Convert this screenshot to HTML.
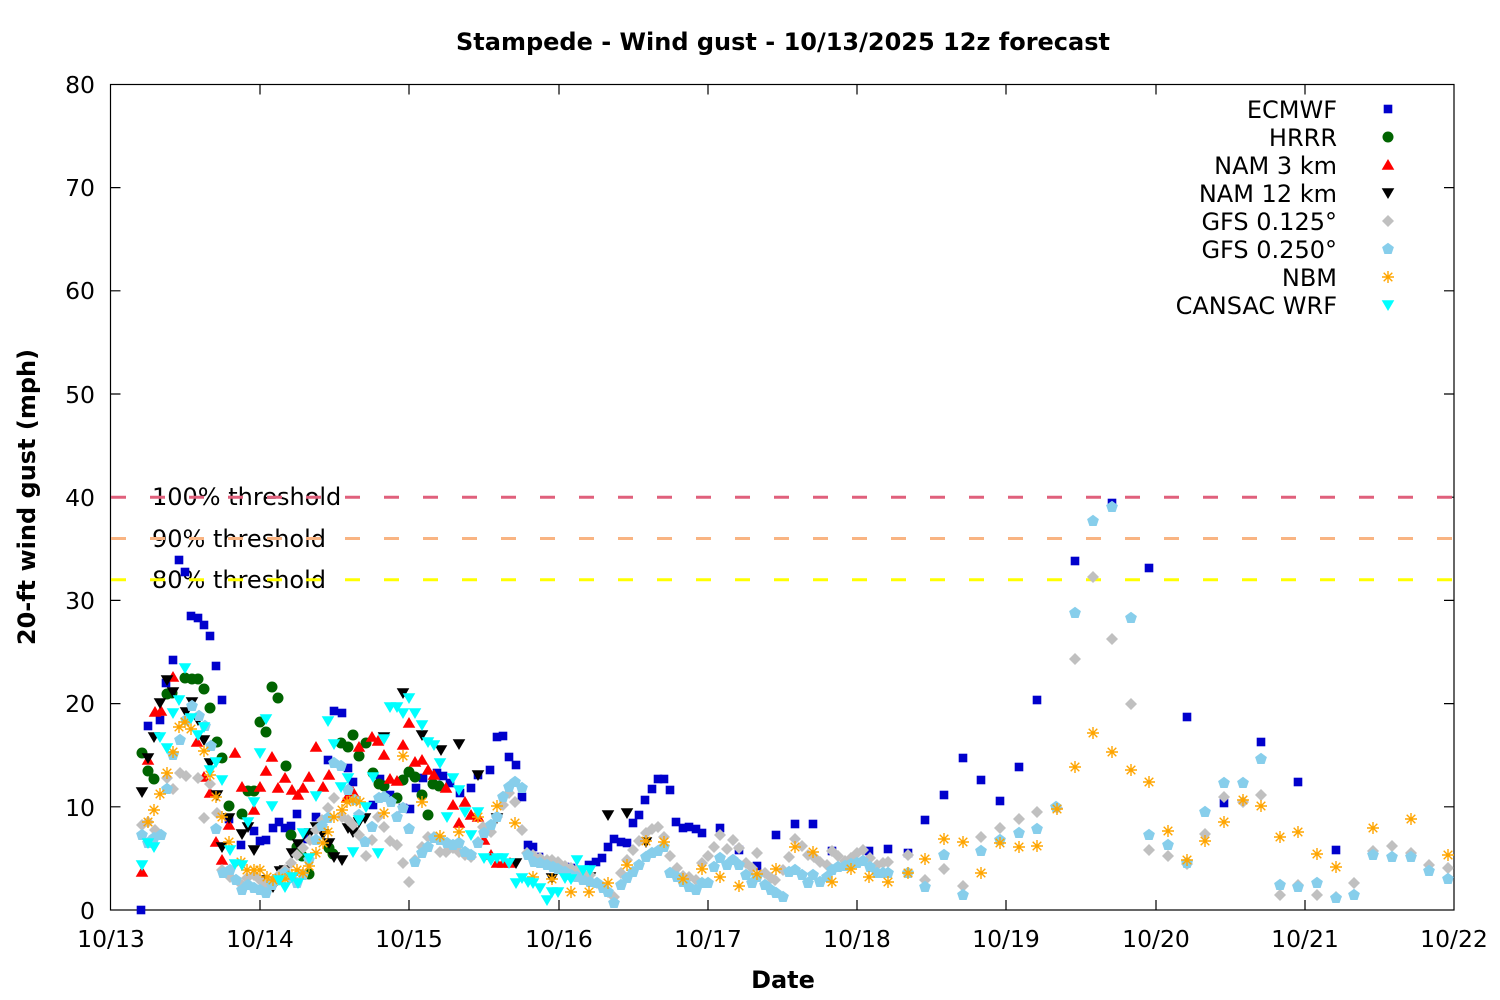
<!DOCTYPE html>
<html><head><meta charset="utf-8"><style>
html,body{margin:0;padding:0;background:#fff;}
svg{display:block;}
text{font-family:"DejaVu Sans","Liberation Sans",sans-serif;fill:#000;}
</style></head><body>
<svg width="1500" height="1000" viewBox="0 0 1500 1000" xmlns="http://www.w3.org/2000/svg">
<defs>
<rect id="sq" x="-4.3" y="-4.3" width="8.6" height="8.6" fill="#0000cc"/>
<circle id="ci" r="5.5" fill="#006400"/>
<polygon id="tu" points="0,-6 6.3,4.8 -6.3,4.8" fill="#ff0000"/>
<polygon id="td" points="-6.3,-4.8 6.3,-4.8 0,6" fill="#000000"/>
<polygon id="tc" points="-6.3,-4.8 6.3,-4.8 0,6" fill="#00ffff"/>
<polygon id="di" points="0,-6 6,0 0,6 -6,0" fill="#c0c0c0"/>
<polygon id="pe" points="0,-6.2 5.9,-1.9 3.6,5 -3.6,5 -5.9,-1.9" fill="#87ceeb"/>
<g id="as" stroke="#ffa500" stroke-width="1.4" fill="none"><path d="M-6,0H6M0,-6V6M-4.3,-4.3L4.3,4.3M-4.3,4.3L4.3,-4.3"/></g>
</defs>
<rect width="1500" height="1000" fill="#fff"/>
<text x="783" y="50" font-size="24" font-weight="bold" text-anchor="middle">Stampede - Wind gust - 10/13/2025 12z forecast</text>
<g font-size="23.5" text-anchor="end">
<text x="95" y="919">0</text><text x="95" y="816">10</text><text x="95" y="712">20</text><text x="95" y="609">30</text><text x="95" y="506">40</text><text x="95" y="403">50</text><text x="95" y="299">60</text><text x="95" y="196">70</text><text x="95" y="93">80</text>
</g>
<g font-size="23.5" text-anchor="middle">
<text x="111" y="947">10/13</text><text x="260" y="947">10/14</text><text x="409" y="947">10/15</text><text x="559" y="947">10/16</text><text x="708" y="947">10/17</text><text x="857" y="947">10/18</text><text x="1006" y="947">10/19</text><text x="1156" y="947">10/20</text><text x="1305" y="947">10/21</text><text x="1454" y="947">10/22</text>
</g>
<text x="783" y="988" font-size="24" font-weight="bold" text-anchor="middle">Date</text>
<text transform="translate(35,497) rotate(-90)" font-size="24" font-weight="bold" text-anchor="middle">20-ft wind gust (mph)</text>
<g stroke="#000" stroke-width="1.2" fill="none">
<rect x="110.5" y="84.5" width="1343.5" height="825.5"/>
<path d="M110.5,806.8h10M110.5,703.6h10M110.5,600.4h10M110.5,497.2h10M110.5,394h10M110.5,290.8h10M110.5,187.6h10M1454,806.8h-10M1454,703.6h-10M1454,600.4h-10M1454,497.2h-10M1454,394h-10M1454,290.8h-10M1454,187.6h-10"/>
<path d="M260,910v-10M409,910v-10M559,910v-10M708,910v-10M857,910v-10M1006,910v-10M1156,910v-10M1305,910v-10M260,84.5v10M409,84.5v10M559,84.5v10M708,84.5v10M857,84.5v10M1006,84.5v10M1156,84.5v10M1305,84.5v10"/>
</g>
<g font-size="24">
<text x="152" y="505">100% threshold</text>
<text x="152" y="547">90% threshold</text>
<text x="152" y="588">80% threshold</text>
</g>
<g stroke-width="3" stroke-dasharray="15 24" fill="none">
<path d="M111,497.2H1454" stroke="#e0607c"/>
<path d="M111,538.5H1454" stroke="#f9b482"/>
<path d="M111,579.8H1454" stroke="#ffff00"/>
</g>
<g font-size="24" text-anchor="end">
<text x="1337" y="118">ECMWF</text><text x="1337" y="146">HRRR</text><text x="1337" y="174">NAM 3 km</text><text x="1337" y="202">NAM 12 km</text><text x="1337" y="230">GFS 0.125°</text><text x="1337" y="258">GFS 0.250°</text><text x="1337" y="286">NBM</text><text x="1337" y="314">CANSAC WRF</text>
</g>
<use href="#sq" x="1388" y="109"/><use href="#ci" x="1388" y="137"/><use href="#tu" x="1388" y="165"/><use href="#td" x="1388" y="193"/><use href="#di" x="1388" y="221"/><use href="#pe" x="1388" y="249"/><use href="#as" x="1388" y="277"/><use href="#tc" x="1388" y="305"/>

<!-- ECMWF -->
<g>
<use href="#sq" x="141" y="910"/><use href="#sq" x="148" y="726"/><use href="#sq" x="160" y="720"/><use href="#sq" x="166" y="683"/><use href="#sq" x="173" y="660"/><use href="#sq" x="179" y="560"/><use href="#sq" x="185" y="572"/><use href="#sq" x="191" y="616"/><use href="#sq" x="198" y="618"/><use href="#sq" x="204" y="625"/><use href="#sq" x="210" y="636"/><use href="#sq" x="216" y="666"/><use href="#sq" x="222" y="700"/><use href="#sq" x="229" y="819"/><use href="#sq" x="241" y="845"/><use href="#sq" x="254" y="831"/><use href="#sq" x="260" y="841"/><use href="#sq" x="266" y="840"/><use href="#sq" x="273" y="828"/><use href="#sq" x="279" y="822"/><use href="#sq" x="285" y="828"/><use href="#sq" x="291" y="826"/><use href="#sq" x="297" y="814"/><use href="#sq" x="307" y="839"/><use href="#sq" x="316" y="817"/><use href="#sq" x="328" y="760"/><use href="#sq" x="334" y="711"/><use href="#sq" x="342" y="713"/><use href="#sq" x="348" y="768"/><use href="#sq" x="353" y="782"/><use href="#sq" x="373" y="805"/><use href="#sq" x="380" y="779"/><use href="#sq" x="390" y="795"/><use href="#sq" x="403" y="808"/><use href="#sq" x="410" y="809"/><use href="#sq" x="416" y="788"/><use href="#sq" x="423" y="778"/><use href="#sq" x="437" y="773"/><use href="#sq" x="443" y="776"/><use href="#sq" x="450" y="783"/><use href="#sq" x="460" y="793"/><use href="#sq" x="471" y="788"/><use href="#sq" x="478" y="775"/><use href="#sq" x="490" y="770"/><use href="#sq" x="497" y="737"/><use href="#sq" x="503" y="736"/><use href="#sq" x="509" y="757"/><use href="#sq" x="516" y="765"/><use href="#sq" x="522" y="797"/><use href="#sq" x="528" y="845"/><use href="#sq" x="533" y="847"/><use href="#sq" x="539" y="857"/><use href="#sq" x="552" y="865"/><use href="#sq" x="558" y="866"/><use href="#sq" x="565" y="867"/><use href="#sq" x="571" y="868"/><use href="#sq" x="576" y="870"/><use href="#sq" x="589" y="865"/><use href="#sq" x="596" y="862"/><use href="#sq" x="602" y="858"/><use href="#sq" x="608" y="847"/><use href="#sq" x="614" y="839"/><use href="#sq" x="621" y="842"/><use href="#sq" x="627" y="843"/><use href="#sq" x="633" y="823"/><use href="#sq" x="639" y="815"/><use href="#sq" x="645" y="800"/><use href="#sq" x="652" y="789"/><use href="#sq" x="658" y="779"/><use href="#sq" x="664" y="779"/><use href="#sq" x="670" y="790"/><use href="#sq" x="676" y="822"/><use href="#sq" x="683" y="828"/><use href="#sq" x="689" y="827"/><use href="#sq" x="696" y="829"/><use href="#sq" x="702" y="833"/><use href="#sq" x="720" y="828"/><use href="#sq" x="739" y="850"/><use href="#sq" x="757" y="866"/><use href="#sq" x="776" y="835"/><use href="#sq" x="795" y="824"/><use href="#sq" x="813" y="824"/><use href="#sq" x="832" y="851"/><use href="#sq" x="869" y="851"/><use href="#sq" x="888" y="849"/><use href="#sq" x="908" y="853"/><use href="#sq" x="925" y="820"/><use href="#sq" x="944" y="795"/><use href="#sq" x="963" y="758"/><use href="#sq" x="981" y="780"/><use href="#sq" x="1000" y="801"/><use href="#sq" x="1019" y="767"/><use href="#sq" x="1037" y="700"/><use href="#sq" x="1075" y="561"/><use href="#sq" x="1112" y="503"/><use href="#sq" x="1149" y="568"/><use href="#sq" x="1187" y="717"/><use href="#sq" x="1224" y="803"/><use href="#sq" x="1261" y="742"/><use href="#sq" x="1298" y="782"/><use href="#sq" x="1336" y="850"/>
</g>
<!-- HRRR -->
<g>
<use href="#ci" x="142" y="753"/><use href="#ci" x="148" y="771"/><use href="#ci" x="154" y="779"/><use href="#ci" x="167" y="694"/><use href="#ci" x="172" y="693"/><use href="#ci" x="185" y="678"/><use href="#ci" x="192" y="679"/><use href="#ci" x="198" y="679"/><use href="#ci" x="204" y="689"/><use href="#ci" x="210" y="708"/><use href="#ci" x="217" y="742"/><use href="#ci" x="222" y="758"/><use href="#ci" x="229" y="806"/><use href="#ci" x="242" y="814"/><use href="#ci" x="248" y="791"/><use href="#ci" x="254" y="791"/><use href="#ci" x="260" y="722"/><use href="#ci" x="266" y="732"/><use href="#ci" x="272" y="687"/><use href="#ci" x="278" y="698"/><use href="#ci" x="286" y="766"/><use href="#ci" x="291" y="835"/><use href="#ci" x="297" y="847"/><use href="#ci" x="302" y="856"/><use href="#ci" x="309" y="874"/><use href="#ci" x="329" y="848"/><use href="#ci" x="333" y="854"/><use href="#ci" x="341" y="743"/><use href="#ci" x="348" y="747"/><use href="#ci" x="353" y="735"/><use href="#ci" x="359" y="756"/><use href="#ci" x="366" y="743"/><use href="#ci" x="373" y="773"/><use href="#ci" x="379" y="784"/><use href="#ci" x="384" y="786"/><use href="#ci" x="397" y="798"/><use href="#ci" x="403" y="780"/><use href="#ci" x="409" y="772"/><use href="#ci" x="415" y="777"/><use href="#ci" x="422" y="795"/><use href="#ci" x="428" y="815"/><use href="#ci" x="433" y="784"/><use href="#ci" x="439" y="786"/>
</g>
<!-- NAM 3 km -->
<g>
<use href="#tu" x="142" y="872"/><use href="#tu" x="148" y="760"/><use href="#tu" x="155" y="712"/><use href="#tu" x="161" y="711"/><use href="#tu" x="173" y="677"/><use href="#tu" x="197" y="742"/><use href="#tu" x="204" y="777"/><use href="#tu" x="210" y="793"/><use href="#tu" x="216" y="842"/><use href="#tu" x="222" y="860"/><use href="#tu" x="229" y="825"/><use href="#tu" x="235" y="753"/><use href="#tu" x="242" y="787"/><use href="#tu" x="254" y="810"/><use href="#tu" x="260" y="787"/><use href="#tu" x="266" y="771"/><use href="#tu" x="272" y="757"/><use href="#tu" x="278" y="788"/><use href="#tu" x="285" y="778"/><use href="#tu" x="292" y="790"/><use href="#tu" x="298" y="795"/><use href="#tu" x="303" y="788"/><use href="#tu" x="309" y="777"/><use href="#tu" x="316" y="747"/><use href="#tu" x="323" y="787"/><use href="#tu" x="329" y="775"/><use href="#tu" x="347" y="798"/><use href="#tu" x="353" y="792"/><use href="#tu" x="359" y="747"/><use href="#tu" x="372" y="737"/><use href="#tu" x="378" y="741"/><use href="#tu" x="384" y="755"/><use href="#tu" x="390" y="779"/><use href="#tu" x="397" y="781"/><use href="#tu" x="403" y="745"/><use href="#tu" x="409" y="723"/><use href="#tu" x="415" y="762"/><use href="#tu" x="422" y="760"/><use href="#tu" x="428" y="770"/><use href="#tu" x="434" y="775"/><use href="#tu" x="446" y="788"/><use href="#tu" x="453" y="805"/><use href="#tu" x="459" y="823"/><use href="#tu" x="465" y="802"/><use href="#tu" x="471" y="815"/><use href="#tu" x="478" y="817"/><use href="#tu" x="484" y="840"/><use href="#tu" x="491" y="855"/><use href="#tu" x="497" y="863"/><use href="#tu" x="503" y="863"/><use href="#tu" x="510" y="863"/>
</g>
<!-- NAM 12 km -->
<g>
<use href="#td" x="142" y="792"/><use href="#td" x="148" y="758"/><use href="#td" x="154" y="737"/><use href="#td" x="160" y="703"/><use href="#td" x="167" y="680"/><use href="#td" x="173" y="692"/><use href="#td" x="186" y="712"/><use href="#td" x="192" y="702"/><use href="#td" x="198" y="720"/><use href="#td" x="204" y="740"/><use href="#td" x="210" y="763"/><use href="#td" x="217" y="795"/><use href="#td" x="222" y="847"/><use href="#td" x="229" y="818"/><use href="#td" x="242" y="834"/><use href="#td" x="248" y="827"/><use href="#td" x="254" y="850"/><use href="#td" x="261" y="880"/><use href="#td" x="267" y="885"/><use href="#td" x="273" y="887"/><use href="#td" x="280" y="871"/><use href="#td" x="285" y="870"/><use href="#td" x="292" y="853"/><use href="#td" x="298" y="844"/><use href="#td" x="304" y="834"/><use href="#td" x="310" y="833"/><use href="#td" x="316" y="827"/><use href="#td" x="323" y="834"/><use href="#td" x="329" y="843"/><use href="#td" x="334" y="857"/><use href="#td" x="342" y="860"/><use href="#td" x="348" y="828"/><use href="#td" x="353" y="832"/><use href="#td" x="359" y="822"/><use href="#td" x="365" y="818"/><use href="#td" x="384" y="737"/><use href="#td" x="403" y="693"/><use href="#td" x="422" y="735"/><use href="#td" x="441" y="750"/><use href="#td" x="459" y="744"/><use href="#td" x="478" y="775"/><use href="#td" x="497" y="818"/><use href="#td" x="516" y="863"/><use href="#td" x="552" y="878"/><use href="#td" x="590" y="877"/><use href="#td" x="608" y="815"/><use href="#td" x="627" y="813"/><use href="#td" x="646" y="842"/>
</g>
<!-- GFS 0.125 -->
<g>
<use href="#di" x="142" y="825"/><use href="#di" x="148" y="822"/><use href="#di" x="155" y="830"/><use href="#di" x="167" y="778"/><use href="#di" x="173" y="789"/><use href="#di" x="180" y="773"/><use href="#di" x="186" y="776"/><use href="#di" x="198" y="778"/><use href="#di" x="204" y="818"/><use href="#di" x="210" y="784"/><use href="#di" x="217" y="813"/><use href="#di" x="222" y="870"/><use href="#di" x="230" y="877"/><use href="#di" x="242" y="885"/><use href="#di" x="247" y="878"/><use href="#di" x="254" y="875"/><use href="#di" x="260" y="880"/><use href="#di" x="266" y="885"/><use href="#di" x="273" y="880"/><use href="#di" x="279" y="875"/><use href="#di" x="285" y="870"/><use href="#di" x="291" y="863"/><use href="#di" x="297" y="855"/><use href="#di" x="303" y="848"/><use href="#di" x="310" y="840"/><use href="#di" x="316" y="830"/><use href="#di" x="322" y="820"/><use href="#di" x="328" y="808"/><use href="#di" x="334" y="798"/><use href="#di" x="342" y="817"/><use href="#di" x="348" y="820"/><use href="#di" x="353" y="825"/><use href="#di" x="359" y="835"/><use href="#di" x="366" y="856"/><use href="#di" x="372" y="840"/><use href="#di" x="378" y="817"/><use href="#di" x="384" y="827"/><use href="#di" x="390" y="841"/><use href="#di" x="397" y="845"/><use href="#di" x="403" y="863"/><use href="#di" x="409" y="882"/><use href="#di" x="415" y="860"/><use href="#di" x="422" y="847"/><use href="#di" x="428" y="837"/><use href="#di" x="434" y="837"/><use href="#di" x="440" y="852"/><use href="#di" x="446" y="852"/><use href="#di" x="453" y="848"/><use href="#di" x="459" y="852"/><use href="#di" x="465" y="855"/><use href="#di" x="471" y="857"/><use href="#di" x="478" y="842"/><use href="#di" x="483" y="827"/><use href="#di" x="491" y="832"/><use href="#di" x="497" y="817"/><use href="#di" x="503" y="805"/><use href="#di" x="509" y="793"/><use href="#di" x="515" y="802"/><use href="#di" x="522" y="830"/><use href="#di" x="527" y="853"/><use href="#di" x="533" y="855"/><use href="#di" x="540" y="858"/><use href="#di" x="547" y="860"/><use href="#di" x="552" y="860"/><use href="#di" x="558" y="862"/><use href="#di" x="565" y="866"/><use href="#di" x="571" y="868"/><use href="#di" x="577" y="870"/><use href="#di" x="583" y="873"/><use href="#di" x="590" y="875"/><use href="#di" x="597" y="883"/><use href="#di" x="603" y="887"/><use href="#di" x="608" y="892"/><use href="#di" x="614" y="897"/><use href="#di" x="621" y="873"/><use href="#di" x="627" y="860"/><use href="#di" x="633" y="850"/><use href="#di" x="639" y="841"/><use href="#di" x="646" y="833"/><use href="#di" x="652" y="829"/><use href="#di" x="658" y="827"/><use href="#di" x="664" y="837"/><use href="#di" x="670" y="856"/><use href="#di" x="677" y="868"/><use href="#di" x="683" y="876"/><use href="#di" x="689" y="877"/><use href="#di" x="696" y="880"/><use href="#di" x="702" y="863"/><use href="#di" x="708" y="856"/><use href="#di" x="714" y="847"/><use href="#di" x="720" y="835"/><use href="#di" x="727" y="849"/><use href="#di" x="733" y="840"/><use href="#di" x="739" y="848"/><use href="#di" x="746" y="863"/><use href="#di" x="752" y="868"/><use href="#di" x="757" y="853"/><use href="#di" x="765" y="873"/><use href="#di" x="771" y="878"/><use href="#di" x="775" y="880"/><use href="#di" x="783" y="870"/><use href="#di" x="789" y="857"/><use href="#di" x="795" y="839"/><use href="#di" x="802" y="846"/><use href="#di" x="808" y="855"/><use href="#di" x="814" y="857"/><use href="#di" x="820" y="862"/><use href="#di" x="827" y="865"/><use href="#di" x="832" y="851"/><use href="#di" x="838" y="856"/><use href="#di" x="845" y="861"/><use href="#di" x="851" y="858"/><use href="#di" x="857" y="853"/><use href="#di" x="863" y="850"/><use href="#di" x="870" y="858"/><use href="#di" x="877" y="865"/><use href="#di" x="883" y="863"/><use href="#di" x="888" y="862"/><use href="#di" x="908" y="855"/><use href="#di" x="925" y="880"/><use href="#di" x="944" y="869"/><use href="#di" x="963" y="886"/><use href="#di" x="981" y="837"/><use href="#di" x="1000" y="828"/><use href="#di" x="1019" y="819"/><use href="#di" x="1037" y="812"/><use href="#di" x="1057" y="808"/><use href="#di" x="1075" y="659"/><use href="#di" x="1093" y="577"/><use href="#di" x="1112" y="639"/><use href="#di" x="1131" y="704"/><use href="#di" x="1149" y="850"/><use href="#di" x="1168" y="856"/><use href="#di" x="1187" y="864"/><use href="#di" x="1205" y="834"/><use href="#di" x="1224" y="797"/><use href="#di" x="1243" y="802"/><use href="#di" x="1261" y="795"/><use href="#di" x="1280" y="895"/><use href="#di" x="1298" y="885"/><use href="#di" x="1317" y="895"/><use href="#di" x="1336" y="897"/><use href="#di" x="1354" y="883"/><use href="#di" x="1373" y="851"/><use href="#di" x="1392" y="846"/><use href="#di" x="1411" y="853"/><use href="#di" x="1429" y="865"/><use href="#di" x="1448" y="868"/>
</g>
<!-- GFS 0.250 -->
<g>
<use href="#pe" x="142" y="835"/><use href="#pe" x="148" y="843"/><use href="#pe" x="154" y="838"/><use href="#pe" x="161" y="835"/><use href="#pe" x="167" y="789"/><use href="#pe" x="173" y="755"/><use href="#pe" x="180" y="740"/><use href="#pe" x="186" y="720"/><use href="#pe" x="192" y="706"/><use href="#pe" x="199" y="716"/><use href="#pe" x="205" y="726"/><use href="#pe" x="211" y="746"/><use href="#pe" x="216" y="829"/><use href="#pe" x="223" y="873"/><use href="#pe" x="230" y="870"/><use href="#pe" x="236" y="880"/><use href="#pe" x="242" y="890"/><use href="#pe" x="248" y="885"/><use href="#pe" x="254" y="888"/><use href="#pe" x="260" y="890"/><use href="#pe" x="266" y="893"/><use href="#pe" x="272" y="885"/><use href="#pe" x="279" y="880"/><use href="#pe" x="285" y="873"/><use href="#pe" x="291" y="878"/><use href="#pe" x="297" y="883"/><use href="#pe" x="303" y="875"/><use href="#pe" x="309" y="860"/><use href="#pe" x="316" y="840"/><use href="#pe" x="322" y="826"/><use href="#pe" x="328" y="818"/><use href="#pe" x="334" y="763"/><use href="#pe" x="341" y="766"/><use href="#pe" x="348" y="790"/><use href="#pe" x="355" y="800"/><use href="#pe" x="359" y="815"/><use href="#pe" x="365" y="842"/><use href="#pe" x="372" y="827"/><use href="#pe" x="379" y="798"/><use href="#pe" x="384" y="797"/><use href="#pe" x="391" y="802"/><use href="#pe" x="397" y="817"/><use href="#pe" x="403" y="808"/><use href="#pe" x="409" y="829"/><use href="#pe" x="415" y="862"/><use href="#pe" x="422" y="853"/><use href="#pe" x="428" y="847"/><use href="#pe" x="434" y="838"/><use href="#pe" x="440" y="840"/><use href="#pe" x="447" y="843"/><use href="#pe" x="453" y="845"/><use href="#pe" x="459" y="843"/><use href="#pe" x="465" y="852"/><use href="#pe" x="471" y="855"/><use href="#pe" x="478" y="843"/><use href="#pe" x="484" y="833"/><use href="#pe" x="491" y="825"/><use href="#pe" x="497" y="817"/><use href="#pe" x="503" y="797"/><use href="#pe" x="509" y="787"/><use href="#pe" x="515" y="782"/><use href="#pe" x="522" y="788"/><use href="#pe" x="528" y="855"/><use href="#pe" x="534" y="862"/><use href="#pe" x="540" y="863"/><use href="#pe" x="547" y="865"/><use href="#pe" x="553" y="867"/><use href="#pe" x="558" y="869"/><use href="#pe" x="565" y="872"/><use href="#pe" x="571" y="875"/><use href="#pe" x="577" y="877"/><use href="#pe" x="583" y="880"/><use href="#pe" x="590" y="882"/><use href="#pe" x="597" y="883"/><use href="#pe" x="603" y="888"/><use href="#pe" x="608" y="892"/><use href="#pe" x="614" y="903"/><use href="#pe" x="621" y="885"/><use href="#pe" x="627" y="878"/><use href="#pe" x="633" y="872"/><use href="#pe" x="639" y="865"/><use href="#pe" x="646" y="857"/><use href="#pe" x="652" y="853"/><use href="#pe" x="658" y="851"/><use href="#pe" x="664" y="847"/><use href="#pe" x="670" y="873"/><use href="#pe" x="677" y="877"/><use href="#pe" x="683" y="882"/><use href="#pe" x="689" y="887"/><use href="#pe" x="696" y="890"/><use href="#pe" x="702" y="883"/><use href="#pe" x="708" y="883"/><use href="#pe" x="714" y="867"/><use href="#pe" x="720" y="858"/><use href="#pe" x="727" y="865"/><use href="#pe" x="733" y="860"/><use href="#pe" x="739" y="865"/><use href="#pe" x="746" y="875"/><use href="#pe" x="752" y="883"/><use href="#pe" x="757" y="877"/><use href="#pe" x="765" y="885"/><use href="#pe" x="771" y="890"/><use href="#pe" x="776" y="893"/><use href="#pe" x="783" y="897"/><use href="#pe" x="789" y="872"/><use href="#pe" x="795" y="870"/><use href="#pe" x="802" y="875"/><use href="#pe" x="808" y="883"/><use href="#pe" x="813" y="875"/><use href="#pe" x="820" y="882"/><use href="#pe" x="827" y="877"/><use href="#pe" x="832" y="870"/><use href="#pe" x="838" y="867"/><use href="#pe" x="845" y="866"/><use href="#pe" x="851" y="864"/><use href="#pe" x="857" y="863"/><use href="#pe" x="863" y="861"/><use href="#pe" x="870" y="867"/><use href="#pe" x="877" y="873"/><use href="#pe" x="883" y="873"/><use href="#pe" x="888" y="873"/><use href="#pe" x="908" y="873"/><use href="#pe" x="925" y="887"/><use href="#pe" x="944" y="855"/><use href="#pe" x="963" y="895"/><use href="#pe" x="981" y="851"/><use href="#pe" x="1000" y="840"/><use href="#pe" x="1019" y="833"/><use href="#pe" x="1037" y="829"/><use href="#pe" x="1056" y="807"/><use href="#pe" x="1075" y="613"/><use href="#pe" x="1093" y="521"/><use href="#pe" x="1112" y="507"/><use href="#pe" x="1131" y="618"/><use href="#pe" x="1149" y="835"/><use href="#pe" x="1168" y="845"/><use href="#pe" x="1187" y="863"/><use href="#pe" x="1205" y="812"/><use href="#pe" x="1224" y="783"/><use href="#pe" x="1243" y="783"/><use href="#pe" x="1261" y="759"/><use href="#pe" x="1280" y="885"/><use href="#pe" x="1298" y="887"/><use href="#pe" x="1317" y="883"/><use href="#pe" x="1336" y="898"/><use href="#pe" x="1354" y="895"/><use href="#pe" x="1373" y="855"/><use href="#pe" x="1392" y="857"/><use href="#pe" x="1411" y="857"/><use href="#pe" x="1429" y="871"/><use href="#pe" x="1448" y="879"/>
</g>
<!-- NBM -->
<g>
<use href="#as" x="148" y="822"/><use href="#as" x="154" y="810"/><use href="#as" x="160" y="794"/><use href="#as" x="167" y="773"/><use href="#as" x="173" y="752"/><use href="#as" x="179" y="727"/><use href="#as" x="185" y="722"/><use href="#as" x="191" y="729"/><use href="#as" x="204" y="751"/><use href="#as" x="210" y="775"/><use href="#as" x="216" y="797"/><use href="#as" x="222" y="817"/><use href="#as" x="229" y="842"/><use href="#as" x="241" y="862"/><use href="#as" x="247" y="870"/><use href="#as" x="254" y="870"/><use href="#as" x="260" y="870"/><use href="#as" x="267" y="877"/><use href="#as" x="273" y="880"/><use href="#as" x="279" y="878"/><use href="#as" x="285" y="879"/><use href="#as" x="292" y="875"/><use href="#as" x="297" y="870"/><use href="#as" x="303" y="873"/><use href="#as" x="309" y="866"/><use href="#as" x="316" y="853"/><use href="#as" x="323" y="843"/><use href="#as" x="328" y="832"/><use href="#as" x="334" y="817"/><use href="#as" x="342" y="810"/><use href="#as" x="347" y="802"/><use href="#as" x="353" y="800"/><use href="#as" x="360" y="802"/><use href="#as" x="384" y="813"/><use href="#as" x="403" y="756"/><use href="#as" x="422" y="802"/><use href="#as" x="440" y="836"/><use href="#as" x="459" y="832"/><use href="#as" x="478" y="817"/><use href="#as" x="497" y="806"/><use href="#as" x="515" y="823"/><use href="#as" x="533" y="877"/><use href="#as" x="552" y="879"/><use href="#as" x="571" y="892"/><use href="#as" x="589" y="892"/><use href="#as" x="608" y="883"/><use href="#as" x="627" y="865"/><use href="#as" x="646" y="841"/><use href="#as" x="664" y="842"/><use href="#as" x="683" y="879"/><use href="#as" x="702" y="869"/><use href="#as" x="720" y="877"/><use href="#as" x="739" y="886"/><use href="#as" x="757" y="874"/><use href="#as" x="776" y="869"/><use href="#as" x="795" y="847"/><use href="#as" x="813" y="852"/><use href="#as" x="832" y="882"/><use href="#as" x="851" y="869"/><use href="#as" x="869" y="877"/><use href="#as" x="888" y="882"/><use href="#as" x="908" y="873"/><use href="#as" x="925" y="859"/><use href="#as" x="944" y="839"/><use href="#as" x="963" y="842"/><use href="#as" x="981" y="873"/><use href="#as" x="1000" y="843"/><use href="#as" x="1019" y="847"/><use href="#as" x="1037" y="846"/><use href="#as" x="1057" y="809"/><use href="#as" x="1075" y="767"/><use href="#as" x="1093" y="733"/><use href="#as" x="1112" y="752"/><use href="#as" x="1131" y="770"/><use href="#as" x="1149" y="782"/><use href="#as" x="1168" y="831"/><use href="#as" x="1187" y="860"/><use href="#as" x="1205" y="841"/><use href="#as" x="1224" y="822"/><use href="#as" x="1243" y="800"/><use href="#as" x="1261" y="806"/><use href="#as" x="1280" y="837"/><use href="#as" x="1298" y="832"/><use href="#as" x="1317" y="854"/><use href="#as" x="1336" y="867"/><use href="#as" x="1373" y="828"/><use href="#as" x="1411" y="819"/><use href="#as" x="1448" y="855"/>
</g>
<!-- CANSAC WRF -->
<g>
<use href="#tc" x="142" y="865"/><use href="#tc" x="148" y="843"/><use href="#tc" x="154" y="847"/><use href="#tc" x="160" y="737"/><use href="#tc" x="167" y="748"/><use href="#tc" x="173" y="713"/><use href="#tc" x="179" y="700"/><use href="#tc" x="185" y="668"/><use href="#tc" x="191" y="718"/><use href="#tc" x="198" y="735"/><use href="#tc" x="204" y="727"/><use href="#tc" x="210" y="770"/><use href="#tc" x="216" y="762"/><use href="#tc" x="222" y="780"/><use href="#tc" x="230" y="850"/><use href="#tc" x="235" y="864"/><use href="#tc" x="242" y="865"/><use href="#tc" x="248" y="822"/><use href="#tc" x="254" y="802"/><use href="#tc" x="260" y="753"/><use href="#tc" x="266" y="719"/><use href="#tc" x="272" y="806"/><use href="#tc" x="279" y="880"/><use href="#tc" x="285" y="887"/><use href="#tc" x="292" y="877"/><use href="#tc" x="298" y="883"/><use href="#tc" x="303" y="833"/><use href="#tc" x="309" y="858"/><use href="#tc" x="316" y="796"/><use href="#tc" x="328" y="721"/><use href="#tc" x="334" y="744"/><use href="#tc" x="341" y="787"/><use href="#tc" x="348" y="778"/><use href="#tc" x="353" y="852"/><use href="#tc" x="359" y="820"/><use href="#tc" x="366" y="807"/><use href="#tc" x="373" y="777"/><use href="#tc" x="378" y="853"/><use href="#tc" x="384" y="739"/><use href="#tc" x="390" y="707"/><use href="#tc" x="397" y="707"/><use href="#tc" x="403" y="713"/><use href="#tc" x="409" y="698"/><use href="#tc" x="415" y="713"/><use href="#tc" x="422" y="725"/><use href="#tc" x="428" y="742"/><use href="#tc" x="434" y="745"/><use href="#tc" x="440" y="763"/><use href="#tc" x="447" y="817"/><use href="#tc" x="453" y="778"/><use href="#tc" x="459" y="790"/><use href="#tc" x="465" y="812"/><use href="#tc" x="471" y="835"/><use href="#tc" x="478" y="812"/><use href="#tc" x="484" y="858"/><use href="#tc" x="491" y="860"/><use href="#tc" x="497" y="858"/><use href="#tc" x="503" y="858"/><use href="#tc" x="509" y="863"/><use href="#tc" x="516" y="883"/><use href="#tc" x="522" y="878"/><use href="#tc" x="528" y="882"/><use href="#tc" x="533" y="883"/><use href="#tc" x="540" y="888"/><use href="#tc" x="547" y="900"/><use href="#tc" x="552" y="892"/><use href="#tc" x="558" y="892"/><use href="#tc" x="565" y="878"/><use href="#tc" x="571" y="879"/><use href="#tc" x="577" y="860"/><use href="#tc" x="583" y="870"/><use href="#tc" x="590" y="870"/>
</g>
</svg>
</body></html>
